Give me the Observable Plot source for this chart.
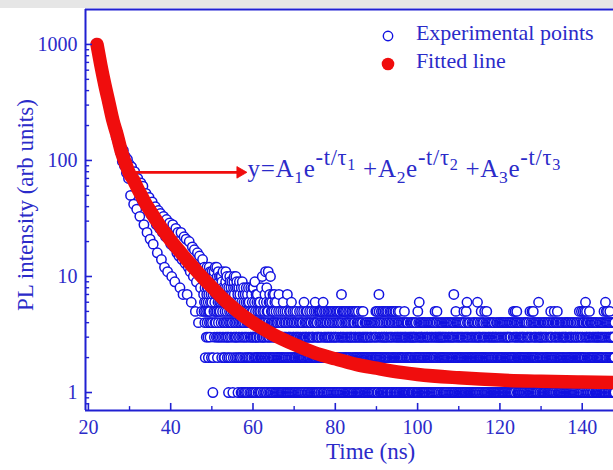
<!DOCTYPE html>
<html>
<head>
<meta charset="utf-8">
<script src="https://cdn.jsdelivr.net/npm/d3@7"></script>
<script src="https://cdn.jsdelivr.net/npm/@observablehq/plot@0.6"></script>
<style>
  html, body { margin: 0; padding: 0; background: #fff; overflow: hidden; }
  #wrap { position: relative; width: 613px; height: 470px; font-family: "Liberation Serif", serif; color: #2b2bc9; }
  #strip { position: absolute; left: 0; top: 0; width: 613px; height: 8px; background: #e6e6e6; }
  #wrap svg { position: absolute; left: 0; top: 0; }
  .ov { position: absolute; white-space: nowrap; line-height: 1; }
  .eq { letter-spacing: 0.7px; }
  .sub { font-size: 0.7em; position: relative; top: 0.3em; }
  .sup { font-size: 0.9em; position: relative; top: -0.55em; }
  .sup .sub2 { font-size: 0.72em; position: relative; top: 0.3em; }
</style>
</head>
<body>
<div id="wrap"><div id="strip"></div></div>
<script>
// Photoluminescence decay histogram.
// Early part: counts every 0.25 ns from 22 ns.
const earlyStart = 22.0;
const earlyStep = 0.25;
const earlyCounts = [
  1020, 880, 840, 720, 690, 580, 560, 470, 470, 390, 395, 320, 330, 270, 275, 225,
  230, 195, 200, 160, 175, 140, 150, 118, 130, 98, 122, 90, 108, 78, 102, 70, 92,
  50, 88, 72, 42, 80, 62, 38, 70, 54, 33, 64, 46, 60, 28, 43, 52, 24, 38, 48,
  21, 34, 44, 19, 31, 40, 28, 16, 37, 26, 35, 14, 24, 33, 12, 22, 31, 11, 21, 29,
  19, 10, 28, 18, 9, 26, 16, 24, 15, 8, 24, 14, 7, 22, 13, 21, 7, 12, 20, 11,
  6, 18, 10, 17, 5, 9, 16, 4, 15, 8, 5, 14
];

// Tail: counts every 0.05 ns from 48 ns, one base-36 digit per sample (0 = empty bin),
// one 20-sample string per nanosecond.
const tailStart = 48.0;
const tailStep = 0.05;
const tailCounts = [
  "7a5c69482b5a6397c485", "8362a75c4953b6847a29", "6b84a1729a5b3864c759", "4937c5a2836b47593a68",
  "5836a4a7293658b74362", "64285379b4638a524736", "3182645a937428563947", "46152839a74536284a35",
  "39284671532846937254", "25183641923574816352", "41735268134527164382", "26451534283147256318",
  "53182436194253172436", "37251422634153621542", "18432a32541364235172", "4b231618524325b14362",
  "37162a24153642513724", "15247361324153624132", "42315273142031524132", "21431526132041352314",
  "42130517241320341523", "13524016234120531342", "41253120432153041231", "23104251324130215423",
  "14023152632140312534", "32150412321430251324", "21431520313204132514", "42613251423140352132",
  "13524052132415302541", "26143125034213520413", "14253013524132045213", "31524201532413025143",
  "23015241325142031524", "41253132407132541325", "13520413252143052134", "24135021435213240315",
  "13524012354132405213", "32150421324153021432", "14302125432140352132", "21034213124302143210",
  "32140124321304213412", "10423120413240213524", "32152410132475203142", "24135203142513524132",
  "13520412353142051324", "20413521034152314205", "35214201352413521043", "12034521342150321432",
  "24130214321403125431", "03214321042134102312", "21304234123041321043", "14321032402134120312",
  "25123412630241320413", "32140231424132041321", "14032132403214213042", "23142104321304124032",
  "12403512342130541203", "31024132032413021432", "24310231421320413214", "13204120342130421304",
  "21432013241320417321", "41032152403142132041", "32140231421320413214", "13024512031420315213",
  "62413021432104213021", "20314231021430124132", "14231203142613420312", "31024312052413021432",
  "24130251321402315214", "10324132041302413214", "24312031423104213021", "31042314201320413124",
  "12340213424120314213", "41023142032140321431", "23140214321043121402", "14203152413240512304",
  "30524130212413204132", "21432041321320413214", "13204210431240321302", "42130251321420315214",
  "12534120342132041320", "21420314632041321403", "32014231042130412314", "14230213422104132401",
  "20314235123142013241", "41205132432140312405", "23140213021432104213", "14023142312031420314",
  "32140321402413021432", "21304213423140213024", "14231023143201420312", "30412251324130215243",
  "21431524042135026143", "35124032144132053214", "13240214324103214032", "24013421304213241302",
  "31240231421320413241", "13024153124136214532", "24150314231042531423", "31242031421304213241"
].join("");

// Triple-exponential fit
const fitTime  = [22.1, 23, 24, 25, 26, 27, 28, 29, 30, 31, 32, 33, 34, 35, 36, 37, 38, 39, 40,
                  42, 44, 46, 48, 50, 53, 56, 60, 65, 70, 75, 80, 85, 90, 96, 100, 110, 120, 130, 140, 148];
const fitValue = [1000, 670, 449, 313, 218, 165, 120, 95, 77, 67.5, 57, 49, 42, 37, 32.5, 28.8, 25.5, 22.9, 20.5,
                  16.8, 13.8, 11.5, 9.6, 8.1, 6.3, 5.1, 4.0, 3.15, 2.6, 2.2, 1.95, 1.75, 1.62, 1.49, 1.43,
                  1.34, 1.28, 1.25, 1.23, 1.22];

const xTicks = [20, 40, 60, 80, 100, 120, 140];
const xMinorTicks = [30, 50, 70, 90, 110, 130];
const yTicks = [1, 10, 100, 1000];
const yMinorTicks = [0.8, 0.9, 2, 3, 4, 5, 6, 7, 8, 9, 20, 30, 40, 50, 60, 70, 80, 90,
                     200, 300, 400, 500, 600, 700, 800, 900];

const legendLabels = ["Experimental points", "Fitted line"];
const legendAt = {t: 92.9, v: [1172, 673]};
const arrowFrom = {t: 31.4, v: 79};
const arrowHead = {t: 56.9, v: 79};
const eqAt = {t: 58.3, v: 79};

const blue = "#1212e0";
const axisBlue = "#2020d2";
const textBlue = "#2b2bc9";
const red = "#f00d0d";

const xDomain = [19.3, 147.6];
const yDomain = [0.7, 2000];

const points = [
  ...earlyCounts.map((v, i) => ({t: earlyStart + i * earlyStep, v})),
  ...Array.from(tailCounts, (c, i) => ({t: tailStart + i * tailStep, v: parseInt(c, 36)}))
].filter(d => d.v > 0);
const fit = fitTime.map((t, i) => ({t, v: fitValue[i]}));

const majorLenX = 1.7, minorLenX = 1.0;          // tick lengths along x (ns)
const majorFacY = 1.15, minorFacY = 1.08;        // tick lengths along log y

const plot = Plot.plot({
  width: 613,
  height: 470,
  marginLeft: 85,
  marginRight: 0,
  marginTop: 9,
  marginBottom: 60,
  x: {domain: xDomain},
  y: {type: "log", domain: yDomain},
  style: {fontFamily: "Liberation Serif, serif", color: textBlue, background: "transparent", overflow: "hidden"},
  marks: [
    Plot.dot(points, {x: "t", y: "v", r: 4.7, fill: "white", stroke: blue, strokeWidth: 1.5, clip: true}),
    Plot.line(fit, {x: "t", y: "v", stroke: red, strokeWidth: 13.5, curve: "monotone-x",
                    strokeLinecap: "round", strokeLinejoin: "round", clip: true}),
    Plot.link([{}], {x1: arrowFrom.t, y1: arrowFrom.v, x2: arrowHead.t, y2: arrowHead.v,
                     stroke: red, strokeWidth: 2.6}),
    Plot.dot([{}], {x: arrowHead.t, y: arrowHead.v, symbol: "triangle", rotate: 90, r: 4.3,
                    fill: red, stroke: red, strokeWidth: 0.8}),
    // frame
    Plot.ruleX([xDomain[0]], {y1: yDomain[0], y2: yDomain[1], stroke: axisBlue, strokeWidth: 2}),
    Plot.ruleY([yDomain[0], yDomain[1]], {x1: xDomain[0], x2: xDomain[1], stroke: axisBlue, strokeWidth: 2}),
    // inward ticks
    Plot.ruleY(yTicks, {y: d => d, x1: xDomain[0], x2: xDomain[0] + majorLenX, stroke: axisBlue, strokeWidth: 1.6}),
    Plot.ruleY(yMinorTicks, {y: d => d, x1: xDomain[0], x2: xDomain[0] + minorLenX, stroke: axisBlue, strokeWidth: 1.4}),
    Plot.ruleX(xTicks, {x: d => d, y1: yDomain[0], y2: yDomain[0] * majorFacY, stroke: axisBlue, strokeWidth: 1.6}),
    Plot.ruleX(xMinorTicks, {x: d => d, y1: yDomain[0], y2: yDomain[0] * minorFacY, stroke: axisBlue, strokeWidth: 1.4}),
    Plot.axisX({ticks: xTicks, tickSize: 0, tickPadding: 9, fontSize: 20, label: null, tickFormat: d => String(d)}),
    Plot.axisY({ticks: yTicks, tickSize: 0, tickPadding: 8, fontSize: 20, label: null, tickFormat: d => String(d)})
  ]
});

const wrap = document.getElementById("wrap");
wrap.appendChild(plot);

const sx = plot.scale("x"), sy = plot.scale("y");

function overlay(html, left, top, extra = "") {
  const d = document.createElement("div");
  d.className = "ov";
  d.innerHTML = html;
  d.style.cssText += `left:${left}px;top:${top}px;${extra}`;
  wrap.appendChild(d);
  return d;
}

// axis titles
overlay("Time (ns)", 326, 440, "font-size:23px;");
const yt = overlay("PL intensity (arb units)", 0, 0, "font-size:23px;transform-origin:0 0;transform:rotate(-90deg);");
yt.style.left = "14px";
yt.style.top = (205 + yt.offsetWidth / 2) + "px";

// legend
const legendX = sx.apply(legendAt.t);
const ly0 = sy.apply(legendAt.v[0]), ly1 = sy.apply(legendAt.v[1]);
overlay(`<svg width="14" height="14"><circle cx="7" cy="7" r="4.7" fill="white" stroke="${blue}" stroke-width="1.4"/></svg>`,
        legendX - 7, ly0 - 7);
overlay(`<svg width="16" height="16"><circle cx="8" cy="8" r="6.3" fill="${red}"/></svg>`,
        legendX - 8, ly1 - 8);
overlay(legendLabels[0], legendX + 28, ly0 - 13.5, "font-size:22px;");
overlay(legendLabels[1], legendX + 28, ly1 - 13.5, "font-size:22px;");

// fitted function
const eq = "y=A<span class='sub'>1</span>e<span class='sup'>-t/τ<span class='sub2'>1</span></span> +" +
           "A<span class='sub'>2</span>e<span class='sup'>-t/τ<span class='sub2'>2</span></span> +" +
           "A<span class='sub'>3</span>e<span class='sup'>-t/τ<span class='sub2'>3</span></span>";
const eqDiv = overlay(eq, sx.apply(eqAt.t) + 2, sy.apply(eqAt.v) - 15.5, "font-size:25px;");
eqDiv.classList.add("eq");
</script>
</body>
</html>
